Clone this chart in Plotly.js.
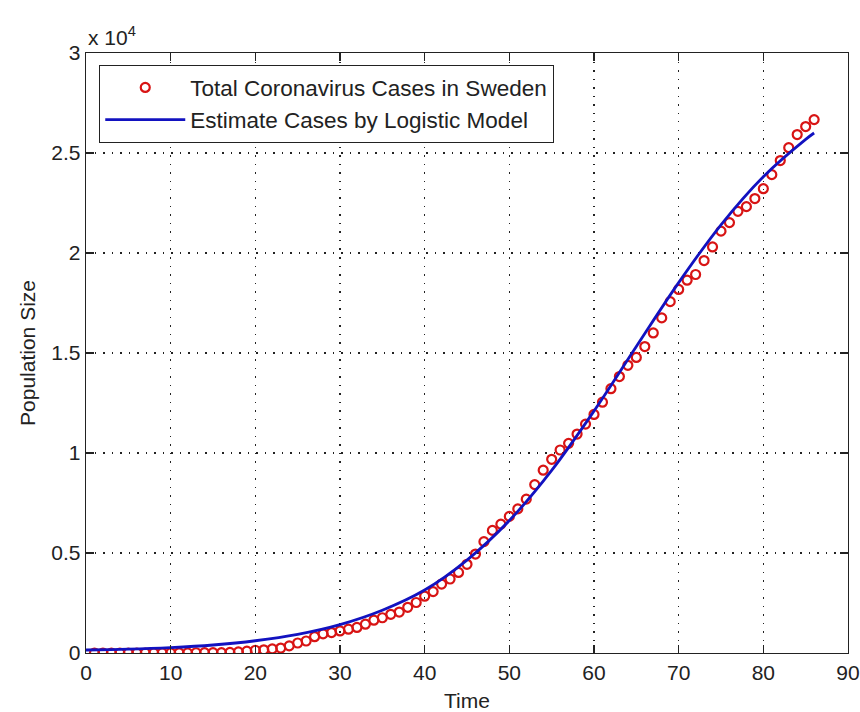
<!DOCTYPE html>
<html>
<head>
<meta charset="utf-8">
<script src="https://cdn.plot.ly/plotly-3.0.1.min.js"></script>
<style>html,body{margin:0;padding:0;background:#fff;}#chart{width:860px;height:712px;}</style>
</head>
<body>
<div id="chart"></div>
<script>
// Observed data: day index and total cases
const days = [1,2,3,4,5,6,7,8,9,10,11,12,13,14,15,16,17,18,19,20,21,22,23,24,25,26,27,28,29,30,
  31,32,33,34,35,36,37,38,39,40,41,42,43,44,45,46,47,48,49,50,51,52,53,54,55,56,57,58,59,60,
  61,62,63,64,65,66,67,68,69,70,71,72,73,74,75,76,77,78,79,80,81,82,83,84,85,86];
const cases = [1,1,1,1,1,1,1,1,1,1, 2,7,12,14,14,15,30,52,94,137,
  161,203,248,355,500,599,814,961,1022,1103, 1190,1279,1439,1639,1763,1934,2046,2286,2526,2840,
  3069,3447,3700,4028,4435,4947,5568,6131,6443,6830, 7206,7693,8419,9141,9685,10151,10483,10948,11445,11927,
  12540,13216,13822,14385,14777,15322,16004,16755,17567,18177, 18640,18926,19621,20302,21092,21520,22082,22317,22721,23216,
  23918,24623,25265,25921,26322,26670];

// Logistic model curve
const fitDays  = [0,5,10,15,20,25,30,35,40,45,50,55,60,65,70,75,80,85,86];
const fitCases = [150,190,270,400,613,935,1422,2140,3150,4648,6621,9132,12100,15326,18520,21412,23818,25685,26000];

// Axis ticks
const xTicks = [0,10,20,30,40,50,60,70,80,90];
const yTicks = [0,5000,10000,15000,20000,25000,30000];
const yTickText = ['0','0.5','1','1.5','2','2.5','3'];

const seriesNames = ['Total Coronavirus Cases in Sweden','Estimate Cases by Logistic Model'];

const FONT = 'Liberation Sans, Arial, Helvetica, sans-serif';
const INK = '#222222';

const traces = [
  {
    x: days, y: cases, type: 'scatter', mode: 'markers', name: seriesNames[0],
    marker: {symbol: 'circle-open', size: 9, color: '#d81414', line: {color: '#d81414', width: 2.2}}
  },
  {
    x: fitDays, y: fitCases, type: 'scatter', mode: 'lines', name: seriesNames[1],
    line: {color: '#1212c0', width: 2.8, shape: 'spline'}
  }
];

const axisCommon = {
  ticks: 'inside', ticklen: 8, tickwidth: 1.3, tickcolor: INK,
  showline: true, linecolor: INK, linewidth: 1.3, mirror: 'ticks',
  showgrid: true, gridcolor: INK, gridwidth: 1.3, griddash: '1.5px,7px',
  zeroline: false, tickfont: {family: FONT, size: 21, color: INK}
};

const layout = {
  width: 860, height: 712,
  margin: {l: 86, r: 12, t: 53, b: 59},
  paper_bgcolor: '#ffffff', plot_bgcolor: '#ffffff',
  font: {family: FONT, size: 21, color: INK},
  xaxis: Object.assign({}, axisCommon, {
    range: [0, 90], tickmode: 'array', tickvals: xTicks,
    title: {text: 'Time', font: {family: FONT, size: 21, color: INK}, standoff: 12}
  }),
  yaxis: Object.assign({}, axisCommon, {
    range: [0, 30000], tickmode: 'array', tickvals: yTicks, ticktext: yTickText,
    title: {text: 'Population Size', font: {family: FONT, size: 21, color: INK}, standoff: 10}
  }),
  showlegend: true,
  legend: {
    x: 0.017, y: 0.98, xanchor: 'left', yanchor: 'top',
    bgcolor: '#ffffff', bordercolor: INK, borderwidth: 1.3,
    font: {family: FONT, size: 22.5, color: INK}, itemwidth: 80, tracegroupgap: 0
  },
  annotations: [{
    xref: 'paper', yref: 'paper', x: 0, y: 1, xanchor: 'left', yanchor: 'bottom',
    text: 'x 10<sup>4</sup>', showarrow: false, yshift: 2,
    font: {family: FONT, size: 21, color: INK}
  }]
};

Plotly.newPlot('chart', traces, layout, {displayModeBar: false, staticPlot: true});
</script>
</body>
</html>
